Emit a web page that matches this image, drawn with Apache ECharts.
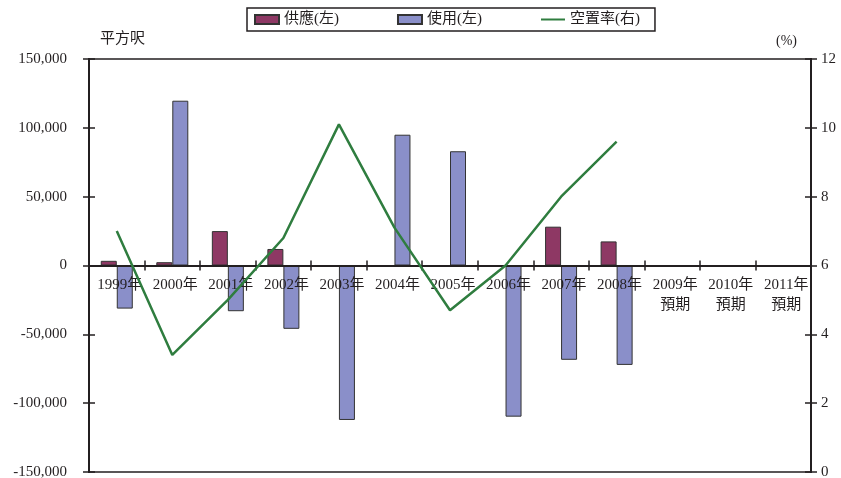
<!DOCTYPE html>
<html>
<head>
<meta charset="utf-8">
<script src="https://cdn.jsdelivr.net/npm/echarts@6/dist/echarts.min.js"></script>
<style>
  html, body { margin: 0; padding: 0; background: #fff; }
  #chart { width: 841px; height: 478px; }
</style>
</head>
<body>
<div id="chart"></div>
<script>
// Office space: supply / take-up (sq ft, left axis) and vacancy rate (%, right axis)
const categories = ['1999年', '2000年', '2001年', '2002年', '2003年', '2004年', '2005年',
  '2006年', '2007年', '2008年', '2009年\n預期', '2010年\n預期', '2011年\n預期'];
const supply = [3400, 2400, 25000, 12000, null, null, null, null, 28200, 17500, null, null, null];
const takeUp = [-31300, 119700, -33200, -46000, -112200, 95000, 83000, -109800, -68500, -72200, null, null, null];
const vacancy = [7.0, 3.4, 5.0, 6.8, 10.1, 7.1, 4.7, 6.0, 8.0, 9.6, null, null, null];
const leftTicks = { min: -150000, max: 150000, interval: 50000 };
const rightTicks = { min: 0, max: 12, interval: 2 };

const FONT = '"Liberation Serif", "Noto Sans CJK TC", serif';
const INK = '#231f20';
const GREEN = '#2f7d3f';

const W = 841, H = 478;
const gridBox = { left: 89, right: 30, top: 59, bottom: 6 };
// lift the category axis from the bottom edge up to the zero level of the left axis
const plotHeight = H - gridBox.top - gridBox.bottom;
const zeroLift = -plotHeight * (0 - leftTicks.min) / (leftTicks.max - leftTicks.min);

const chart = echarts.init(document.getElementById('chart'), null, { renderer: 'canvas' });

const axisLine = { show: true, lineStyle: { color: INK, width: 2 } };
const tickStyle = { color: INK, width: 1.5 };

chart.setOption({
  animation: false,
  backgroundColor: '#fff',
  textStyle: { fontFamily: FONT },
  legend: {
    left: 247,
    top: 8,
    orient: 'horizontal',
    itemWidth: 24,
    itemHeight: 9,
    itemGap: 58,
    padding: [4, 15, 4, 7],
    borderColor: INK,
    borderWidth: 1.5,
    textStyle: { fontFamily: FONT, fontSize: 15, color: INK },
    data: [
      { name: '供應(左)', icon: 'rect' },
      { name: '使用(左)', icon: 'rect' },
      { name: '空置率(右)', itemStyle: { color: 'transparent', borderWidth: 0, opacity: 0 } }
    ]
  },
  grid: Object.assign({}, gridBox, {
    containLabel: false,
    outerBoundsMode: 'none',
    show: true, borderColor: INK, borderWidth: 1.5, backgroundColor: 'transparent'
  }),
  xAxis: [
    {
      type: 'category',
      position: 'bottom',
      offset: zeroLift,
      z: 3,
      data: categories,
      boundaryGap: true,
      axisLine: { show: true, onZero: false, lineStyle: { color: INK, width: 2 } },
      axisTick: { show: true, inside: false, length: 5, lineStyle: tickStyle },
      axisLabel: {
        show: true, interval: 0, margin: 10, fontSize: 15, lineHeight: 20,
        padding: [0, 0, 0, 6],
        color: INK, fontFamily: FONT
      },
      splitLine: { show: false }
    },
    {
      type: 'category',
      position: 'bottom',
      offset: zeroLift,
      z: 3,
      data: categories,
      boundaryGap: true,
      axisLine: { show: true, onZero: false, lineStyle: { color: INK, width: 2 } },
      axisTick: { show: true, inside: true, length: 5, lineStyle: tickStyle },
      axisLabel: { show: false },
      splitLine: { show: false }
    }
  ],
  yAxis: [
    {
      type: 'value',
      position: 'left',
      min: leftTicks.min, max: leftTicks.max, interval: leftTicks.interval,
      name: '平方呎',
      nameLocation: 'end',
      nameGap: 12,
      nameTextStyle: { fontFamily: FONT, fontSize: 15, color: INK, align: 'left', padding: [0, 0, 0, 11] },
      axisLine: axisLine,
      axisTick: { show: true, inside: false, length: 6, lineStyle: tickStyle },
      axisLabel: {
        margin: 22, fontSize: 15, color: INK, fontFamily: FONT,
        formatter: v => v.toLocaleString('en-US')
      },
      splitLine: { show: false }
    },
    {
      type: 'value',
      position: 'right',
      min: rightTicks.min, max: rightTicks.max, interval: rightTicks.interval,
      name: '(%)',
      nameLocation: 'end',
      nameGap: 11,
      nameTextStyle: { fontFamily: FONT, fontSize: 14, color: INK, align: 'right', padding: [0, 14, 0, 0] },
      axisLine: axisLine,
      axisTick: { show: true, inside: false, length: 6, lineStyle: tickStyle },
      axisLabel: { margin: 10, fontSize: 15, color: INK, fontFamily: FONT },
      splitLine: { show: false }
    },
    {
      type: 'value',
      position: 'left',
      min: leftTicks.min, max: leftTicks.max, interval: leftTicks.interval,
      axisLine: axisLine,
      axisTick: { show: true, inside: true, length: 6, lineStyle: tickStyle },
      axisLabel: { show: false },
      splitLine: { show: false }
    },
    {
      type: 'value',
      position: 'right',
      min: rightTicks.min, max: rightTicks.max, interval: rightTicks.interval,
      axisLine: axisLine,
      axisTick: { show: true, inside: true, length: 6, lineStyle: tickStyle },
      axisLabel: { show: false },
      splitLine: { show: false }
    }
  ],
  series: [
    {
      name: '供應(左)',
      type: 'bar',
      xAxisIndex: 0, yAxisIndex: 0,
      data: supply,
      barWidth: 16,
      barGap: '0%',
      itemStyle: { color: '#8e3864', borderColor: '#333', borderWidth: 1 },
      z: 2
    },
    {
      name: '使用(左)',
      type: 'bar',
      xAxisIndex: 0, yAxisIndex: 0,
      data: takeUp,
      barWidth: 16,
      barGap: '0%',
      itemStyle: { color: '#8a8fc9', borderColor: '#333', borderWidth: 1 },
      z: 2
    },
    {
      name: '空置率(右)',
      type: 'line',
      xAxisIndex: 0, yAxisIndex: 1,
      data: vacancy,
      symbol: 'none',
      connectNulls: false,
      lineStyle: { color: GREEN, width: 2.5 },
      itemStyle: { color: GREEN },
      z: 5
    }
  ]
});
</script>
</body>
</html>
